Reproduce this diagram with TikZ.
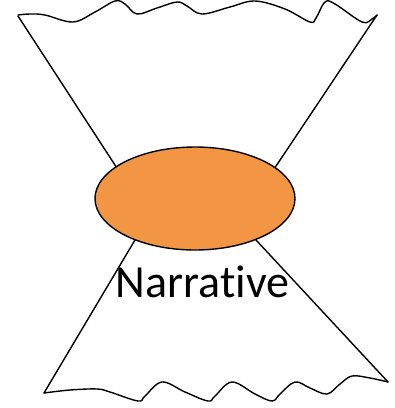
\documentclass[tikz,border=0pt]{standalone}
\usepackage{fontspec}
\setmainfont{Carlito}[Ligatures=NoCommon]
\usetikzlibrary{shapes.geometric}
\definecolor{narr}{HTML}{F39644}
\tikzset{edge/.style={line width=1.4pt,line join=round,line cap=round}}
\begin{document}
\begin{tikzpicture}[x=1pt,y=-1pt]
\useasboundingbox (0,0) rectangle (395,408);
\coordinate (tl) at (18,16);
\coordinate (tr) at (377,15);
\coordinate (bl) at (44,393);
\coordinate (br) at (388,382);
\coordinate (tli) at (141,205);
\coordinate (tri) at (250,205);
\coordinate (bli) at (157,203);
\coordinate (bri) at (230,212);
% top wave
\draw[edge] plot[smooth,tension=0.6] coordinates {(18,15) (30,14) (45,15) (73,22) (95,12) (115,1) (125,4) (137,14) (157,8) (177,2) (187,6) (202,14) (230,7) (255,1) (285,9) (310,22) (316,18) (325,2) (335,4) (362,22) (372,19) (377,15)};
\draw[edge] (tl) -- (tli);
\draw[edge] (tr) -- (tri);
\draw[edge] (bl) -- (bli);
\draw[edge] (br) -- (bri);
% bottom wave
\draw[edge] plot[smooth,tension=0.6] coordinates {(44,393) (70,390) (97,389) (110,392) (138,401) (145,396) (162,382) (185,392) (208,401) (215,396) (232,382) (255,394) (272,401) (280,394) (295,382) (310,388) (327,394) (340,384) (352,376) (370,378) (388,382)};
\node[ellipse,draw,line width=1.4pt,fill=narr,minimum width=200pt,minimum height=103pt,inner sep=0pt] (e) at (195,198.5) {};
\node[font=\fontsize{46}{50}\selectfont,anchor=base,inner sep=0pt] (t) at (202.5,297) {Narrative};
\end{tikzpicture}
\end{document}
